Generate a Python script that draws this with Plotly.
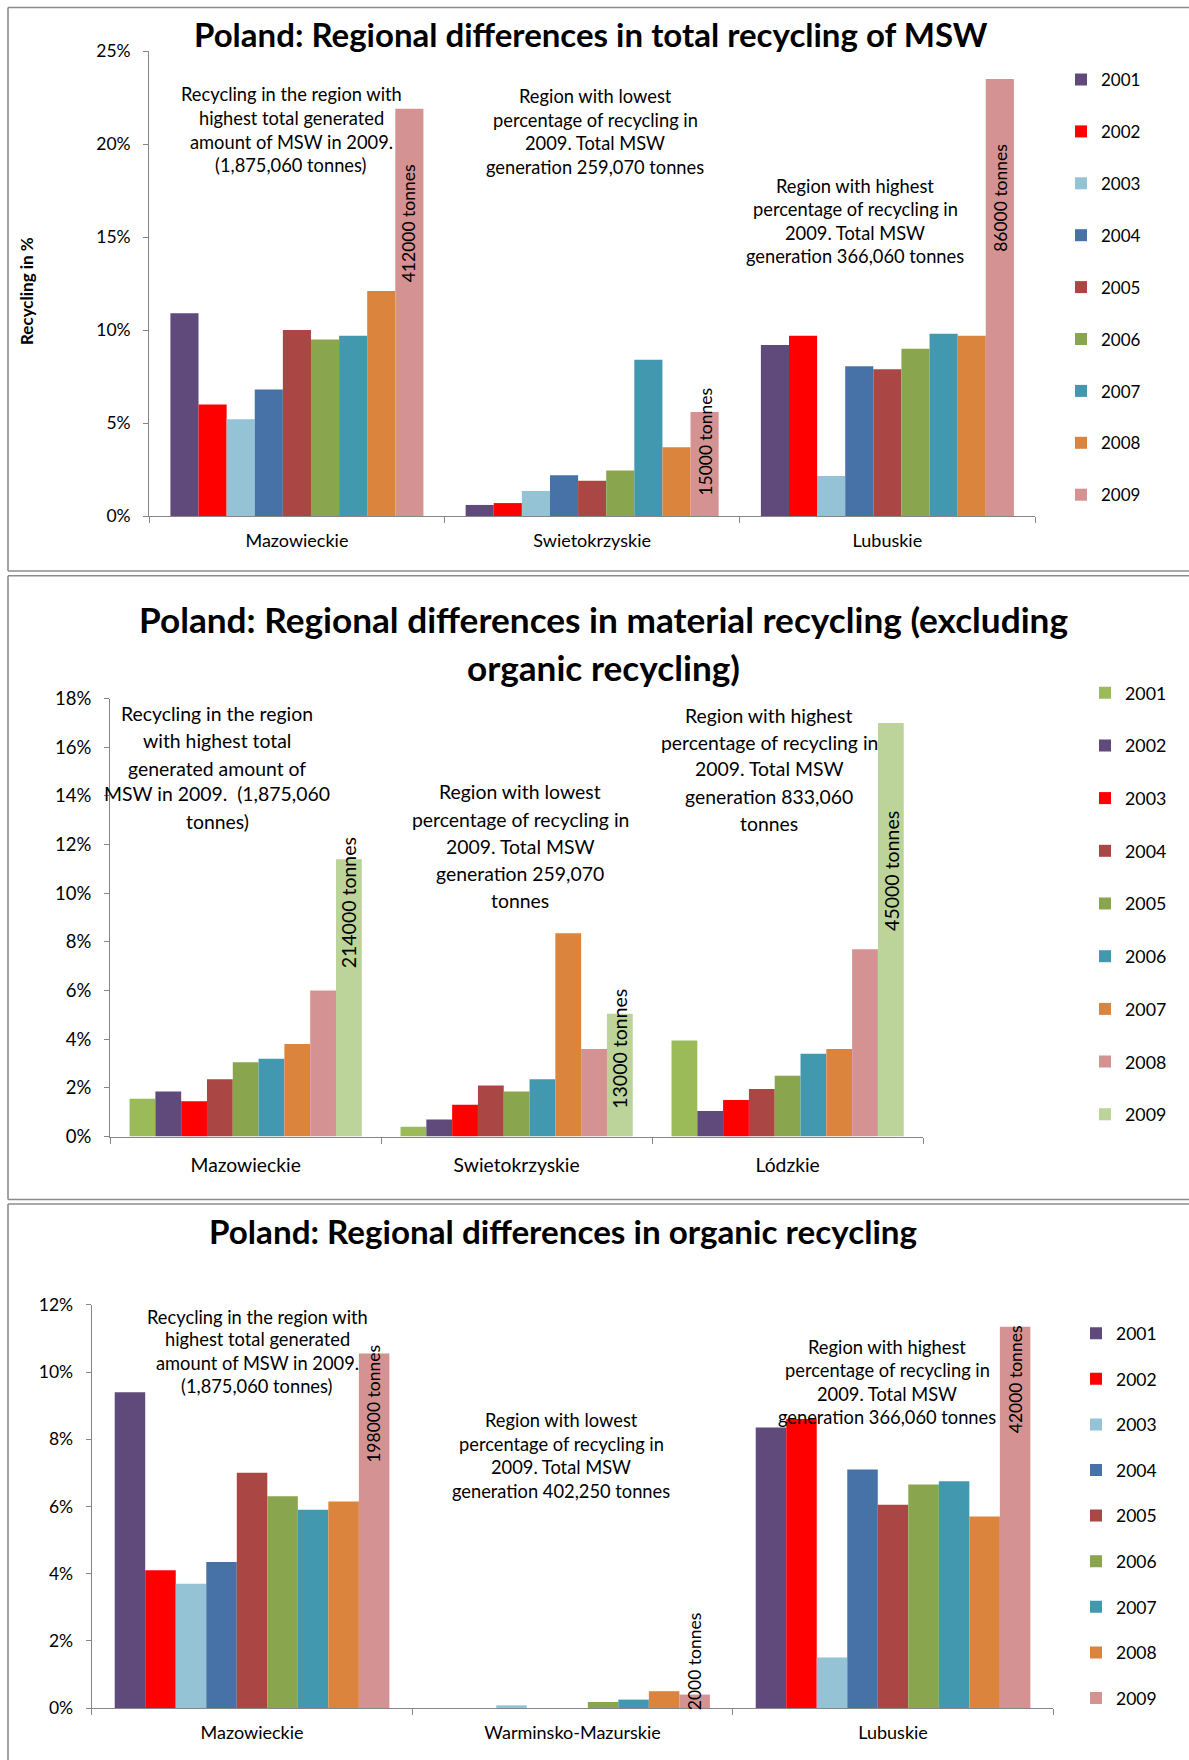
import plotly.graph_objects as go

W, H = 1189, 1760
FONT = "Lato"
AXIS_GREY = "#868686"
FRAME_GREY = "#8c8c8c"
BARGAP = 0.143

years = ["2001", "2002", "2003", "2004", "2005", "2006", "2007", "2008", "2009"]

# Total recycling of MSW, % of generated MSW
total_regions = ["Mazowieckie", "Swietokrzyskie", "Lubuskie"]
total_mazowieckie = [10.9, 6.0, 5.2, 6.8, 10.0, 9.5, 9.7, 12.1, 21.9]
total_swietokrzyskie = [0.6, 0.7, 1.35, 2.2, 1.9, 2.45, 8.4, 3.7, 5.6]
total_lubuskie = [9.2, 9.7, 2.15, 8.05, 7.9, 9.0, 9.8, 9.7, 23.5]
total_tonnes = ["412000 tonnes", "15000 tonnes", "86000 tonnes"]
total_colors = ["#604A7B", "#FF0000", "#93C3D5", "#4672A8", "#AA4643",
                "#89A54E", "#4198AF", "#DB843D", "#D49292"]

# Material recycling (excluding organic), %
material_regions = ["Mazowieckie", "Swietokrzyskie", "Lódzkie"]
material_mazowieckie = [1.55, 1.85, 1.45, 2.35, 3.05, 3.2, 3.8, 6.0, 11.4]
material_swietokrzyskie = [0.4, 0.7, 1.3, 2.1, 1.85, 2.35, 8.35, 3.6, 5.05]
material_lodzkie = [3.95, 1.05, 1.5, 1.95, 2.5, 3.4, 3.6, 7.7, 17.0]
material_tonnes = ["214000 tonnes", "13000 tonnes", "45000 tonnes"]
material_colors = ["#9BBB59", "#604A7B", "#FF0000", "#AA4643", "#89A54E",
                   "#4198AF", "#DB843D", "#D49292", "#BCD399"]

# Organic recycling, %
organic_regions = ["Mazowieckie", "Warminsko-Mazurskie", "Lubuskie"]
organic_mazowieckie = [9.4, 4.1, 3.7, 4.35, 7.0, 6.3, 5.9, 6.15, 10.55]
organic_warminsko = [0.0, 0.0, 0.08, 0.0, 0.0, 0.18, 0.25, 0.5, 0.4]
organic_lubuskie = [8.35, 8.6, 1.5, 7.1, 6.05, 6.65, 6.75, 5.7, 11.35]
organic_tonnes = ["198000 tonnes", "2000 tonnes", "42000 tonnes"]
organic_colors = total_colors


def px(x):
    return x / W


def py(y):
    return 1 - y / H


panels = [
    dict(regions=total_regions,
         series=[total_mazowieckie, total_swietokrzyskie, total_lubuskie],
         colors=total_colors, tonnes=total_tonnes, tonne_y=[15.76, 3.98, 17.1],
         tonne_size=17.5, ymax=25, dtick=5, box=(149.3, 1035.0, 51.05, 516.1),
         tick_size=17.5, cat_size=18, cat_standoff=8,
         legend=dict(left=1061, first=79.5, step=51.9, size=17)),
    dict(regions=material_regions,
         series=[material_mazowieckie, material_swietokrzyskie, material_lodzkie],
         colors=material_colors, tonnes=material_tonnes, tonne_y=[9.62, 3.6, 10.91],
         tonne_size=19.5, ymax=18, dtick=2, box=(110.2, 923.1, 698.6, 1136.5),
         tick_size=18.5, cat_size=19.3, cat_standoff=11,
         legend=dict(left=1085, first=692.7, step=52.7, size=17.8)),
    dict(regions=organic_regions,
         series=[organic_mazowieckie, organic_warminsko, organic_lubuskie],
         colors=organic_colors, tonnes=organic_tonnes, tonne_y=[9.06, 1.38, 9.79],
         tonne_size=17.5, ymax=12, dtick=2, box=(91.8, 1053.3, 1304.9, 1708.0),
         tick_size=17.5, cat_size=18, cat_standoff=8,
         legend=dict(left=1076, first=1333.2, step=45.6, size=17.5)),
]

fig = go.Figure()
annotations = []
layout = {}

# centre of the last (2009) bar inside a group, in category units
group_w = 1 - BARGAP
last_bar = -group_w / 2 + 8.5 * group_w / len(years)

for k, p in enumerate(panels):
    sfx = "" if k == 0 else str(k + 1)
    x0, x1, ytop, ybot = p["box"]
    for i, year in enumerate(years):
        fig.add_trace(go.Bar(
            x=p["regions"], y=[s[i] for s in p["series"]], name=year,
            marker=dict(color=p["colors"][i], line=dict(width=0)),
            xaxis="x" + sfx, yaxis="y" + sfx,
            legend="legend" + sfx, legendgroup=f"p{k}-{year}",
        ))
    layout["xaxis" + sfx] = dict(
        domain=[px(x0), px(x1)], anchor="y" + sfx, type="category",
        categoryorder="array", categoryarray=p["regions"],
        showline=True, linecolor=AXIS_GREY, linewidth=1.3,
        ticks="outside", tickson="boundaries", ticklen=6, tickcolor=AXIS_GREY,
        showgrid=False, zeroline=False, automargin=False,
        ticklabelstandoff=p["cat_standoff"],
        tickfont=dict(family=FONT, size=p["cat_size"], color="black"),
    )
    layout["yaxis" + sfx] = dict(
        domain=[py(ybot), py(ytop)], anchor="x" + sfx, range=[0, p["ymax"]],
        dtick=p["dtick"], ticksuffix="%", showline=True, linecolor=AXIS_GREY,
        linewidth=1.3, ticks="outside", ticklen=5, tickcolor=AXIS_GREY,
        showgrid=False, zeroline=False, automargin=False, ticklabelstandoff=9,
        tickfont=dict(family=FONT, size=p["tick_size"], color="black"),
    )
    lg = p["legend"]
    item_h = max(lg["size"] * 1.3, 16) + 3
    layout["legend" + sfx] = dict(
        x=px(lg["left"]), xanchor="left",
        y=py(lg["first"] - item_h / 2 - 5), yanchor="top",
        tracegroupgap=lg["step"] - item_h, traceorder="grouped",
        bgcolor="rgba(0,0,0,0)", itemwidth=30,
        font=dict(family=FONT, size=lg["size"], color="black"),
    )
    for j, label in enumerate(p["tonnes"]):
        annotations.append(dict(
            text=label, x=j + last_bar, y=p["tonne_y"][j],
            xref="x" + sfx, yref="y" + sfx, textangle=-90, showarrow=False,
            xanchor="center", yanchor="middle",
            font=dict(family=FONT, size=p["tonne_size"], color="black"),
        ))


def text_block(lines, cx, ys, size, bold=False):
    for line, y in zip(lines, ys):
        annotations.append(dict(
            text=f"<b>{line}</b>" if bold else line,
            x=px(cx), y=py(y), xref="paper", yref="paper",
            xanchor="center", yanchor="middle", showarrow=False,
            font=dict(family=FONT, size=size, color="black"),
        ))


# chart titles
text_block(["Poland: Regional differences in total recycling of MSW"],
           591, [34], 33, bold=True)
text_block(["Poland: Regional differences in material recycling (excluding",
            "organic recycling)"], 603, [619, 667], 35.2, bold=True)
text_block(["Poland: Regional differences in organic recycling"],
           563, [1231], 33.2, bold=True)

# explanatory notes, chart 1
text_block(["Recycling in the region with", "highest total generated",
            "amount of MSW in 2009.", "(1,875,060 tonnes)"],
           291, [94.3, 118.4, 141.7, 165.4], 18.3)
text_block(["Region with lowest", "percentage of recycling in",
            "2009. Total MSW", "generation 259,070 tonnes"],
           595, [96.2, 120.2, 143.2, 166.5], 18.3)
text_block(["Region with highest", "percentage of recycling in",
            "2009. Total MSW", "generation 366,060 tonnes"],
           855, [186.1, 209.4, 233.1, 256.0], 18.3)

# explanatory notes, chart 2
text_block(["Recycling in the region", "with highest total",
            "generated amount of", "MSW in 2009.\u00a0 (1,875,060", "tonnes)"],
           217, [713.4, 740.8, 768.1, 793.8, 821.1], 19.4)
text_block(["Region with lowest", "percentage of recycling in",
            "2009. Total MSW", "generation 259,070", "tonnes"],
           520, [791.0, 819.1, 846.4, 873.3, 900.7], 19.4)
text_block(["Region with highest", "percentage of recycling in",
            "2009. Total MSW", "generation 833,060", "tonnes"],
           769, [715.4, 742.0, 768.9, 796.2, 823.1], 19.4)

# explanatory notes, chart 3
text_block(["Recycling in the region with", "highest total generated",
            "amount of MSW in 2009.", "(1,875,060 tonnes)"],
           257, [1316.5, 1339.0, 1363.0, 1386.3], 18.3)
text_block(["Region with lowest", "percentage of recycling in",
            "2009. Total MSW", "generation 402,250 tonnes"],
           561, [1420.0, 1443.7, 1467.4, 1491.0], 18.3)
text_block(["Region with highest", "percentage of recycling in",
            "2009. Total MSW", "generation 366,060 tonnes"],
           887, [1347.0, 1370.3, 1393.6, 1417.2], 18.3)

# y-axis title of the first chart
annotations.append(dict(
    text="<b>Recycling in %</b>", x=px(27), y=py(291), xref="paper", yref="paper",
    textangle=-90, showarrow=False, xanchor="center", yanchor="middle",
    font=dict(family=FONT, size=17, color="black"),
))

# chart frames (open on the right, where they run off the page)
shapes = []
for top, bottom in [(7.5, 571.0), (575.7, 1199.5), (1204.0, 1775.0)]:
    for (xa, ya, xb, yb) in [(8, top, 1200, top), (8, top, 8, bottom),
                             (8, bottom, 1200, bottom)]:
        shapes.append(dict(type="line", xref="paper", yref="paper",
                           x0=px(xa), y0=py(ya), x1=px(xb), y1=py(yb),
                           line=dict(color=FRAME_GREY, width=1.6)))

fig.update_layout(
    width=W, height=H,
    margin=dict(l=0, r=0, t=0, b=0, pad=0, autoexpand=False),
    paper_bgcolor="white", plot_bgcolor="white",
    barmode="group", bargap=BARGAP, bargroupgap=0,
    font=dict(family=FONT, color="black"),
    showlegend=True, annotations=annotations, shapes=shapes,
    **layout,
)

fig.write_html("out.html")
